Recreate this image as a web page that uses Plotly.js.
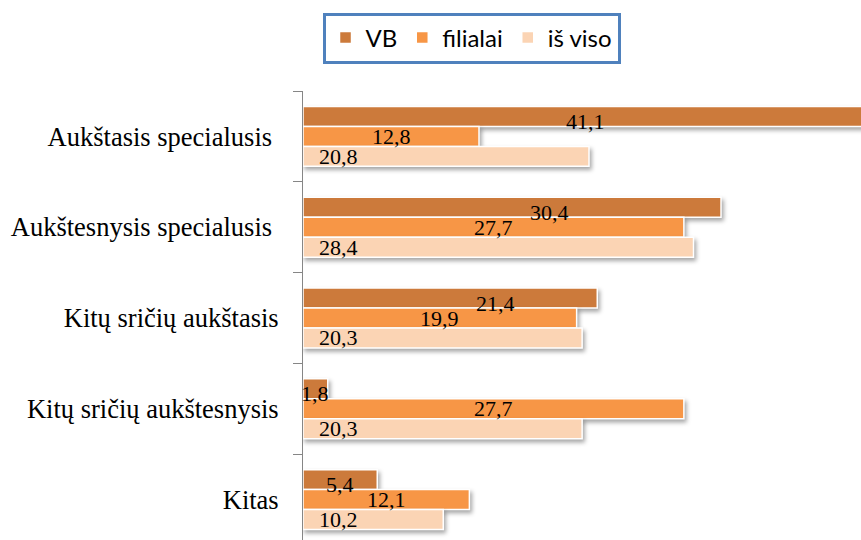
<!DOCTYPE html>
<html><head><meta charset="utf-8">
<script src="https://cdn.plot.ly/plotly-3.0.1.min.js"></script>
<style>
html,body{margin:0;padding:0;background:#fff;overflow:hidden}
#chart{width:861px;height:540px}
.barlayer .point path{filter:drop-shadow(2px 3px 2px rgba(0,0,0,0.35));}
</style></head><body><div id="chart"></div>
<script>
const categories = ["Aukštasis specialusis\u00a0", "Aukštesnysis specialusis\u00a0", "Kitų sričių aukštasis", "Kitų sričių aukštesnysis", "Kitas"];
const seriesNames = ["VB", "filialai", "iš viso"];
const vbValues = [41.1, 30.4, 21.4, 1.8, 5.4];
const filialaiValues = [12.8, 27.7, 19.9, 27.7, 12.1];
const isVisoValues = [20.8, 28.4, 20.3, 20.3, 10.2];

const seriesValues = [vbValues, filialaiValues, isVisoValues];
const colors = ["#CC7A3B", "#F79646", "#FBD4B4"];
const bargap = 0.34;
const barW = (1 - bargap) / 3;
const xMax = 40.58;
const plotW = 861 - 303;
const pxPerUnit = plotW / xMax;

const fmt = v => v.toFixed(1).replace('.', ',');

const traces = seriesValues.map((vals, k) => ({
  type: 'bar', orientation: 'h',
  name: seriesNames[k],
  y: categories, x: vals,
  marker: {color: colors[k], line: {color: '#ffffff', width: 1.5}},
  hoverinfo: 'skip'
}));

const labelFont = {family: 'Liberation Serif, Times New Roman, serif', size: 22, color: '#000'};
const annotations = [];
seriesValues.forEach((vals, k) => {
  vals.forEach((v, i) => {
    const a = {
      xref: 'x', yref: 'y',
      y: i + (k - 1) * barW,
      text: fmt(v), showarrow: false, font: labelFont
    };
    if (k === 0) {
      // centred in the bar, pushed right when it would collide with the filialai label
      a.x = v / 2; a.xanchor = 'center'; a.yshift = -5;
      const f = filialaiValues[i] / 2;
      const dpx = (a.x - f) * pxPerUnit;
      if (Math.abs(dpx) < 44) a.xshift = (f - a.x) * pxPerUnit + 56;
    } else if (k === 1) {
      a.x = v / 2; a.xanchor = 'center';
    } else {
      a.x = 0; a.xanchor = 'left'; a.xshift = 14;
    }
    annotations.push(a);
  });
});

const layout = {
  width: 861, height: 540,
  margin: {l: 303, r: 0, t: 91, b: 0, pad: 0},
  paper_bgcolor: '#fff', plot_bgcolor: '#fff',
  barmode: 'group', bargap: bargap, bargroupgap: 0,
  showlegend: true,
  legend: {
    orientation: 'h', x: 0.3020, xanchor: 'center', y: 1.118, yanchor: 'middle',
    bordercolor: '#4F81BD', borderwidth: 3, bgcolor: '#fff',
    font: {family: 'Lato, Carlito, Calibri, sans-serif', size: 24, color: '#000'},
    traceorder: 'normal', itemclick: false
  },
  xaxis: {range: [0, xMax], visible: false, showgrid: false, zeroline: false, fixedrange: true},
  yaxis: {
    type: 'category', range: [4.445, -0.5],
    showline: true, linecolor: '#868686', linewidth: 1,
    ticks: 'outside', tickson: 'boundaries', ticklen: 9, tickcolor: '#868686', tickwidth: 1,
    ticklabelstandoff: 18,
    tickfont: {family: 'Liberation Serif, Times New Roman, serif', size: 26.5, color: '#000'},
    showgrid: false, zeroline: false, fixedrange: true
  },
  annotations: annotations
};

Plotly.newPlot('chart', traces, layout, {displayModeBar: false, staticPlot: true});
</script></body></html>
